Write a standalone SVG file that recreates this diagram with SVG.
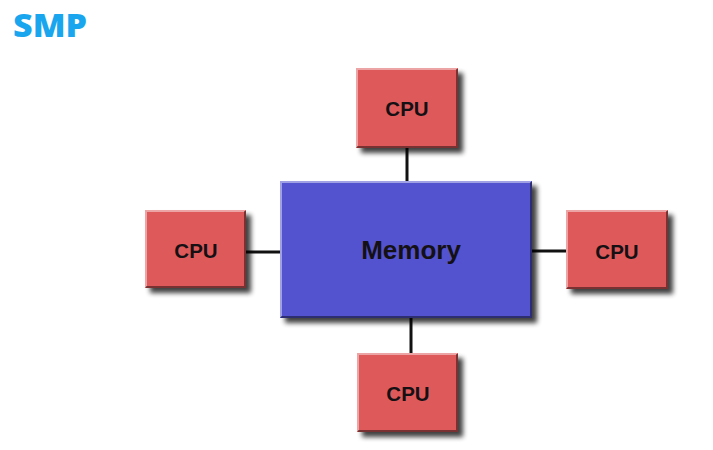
<svg xmlns="http://www.w3.org/2000/svg" width="713" height="450" viewBox="0 0 713 450">
<style>
.cpu{fill:#de5a5a;}
.mem{fill:#5252d0;}
.hl{fill:none;stroke:#ffffff;stroke-opacity:0.45;stroke-width:2;}
.dk{fill:none;stroke:#000000;stroke-opacity:0.45;stroke-width:2;}
.lbl{font-family:"Liberation Sans",Arial,sans-serif;font-weight:bold;fill:#141014;text-anchor:middle;}
.conn line{stroke:#111111;stroke-width:3;}
</style>
<defs>
<filter id="sh" x="-10%" y="-10%" width="130%" height="130%">
<feGaussianBlur in="SourceAlpha" stdDeviation="2.5"/>
<feOffset dx="5" dy="5" result="b"/>
<feComponentTransfer><feFuncA type="linear" slope="0.75"/></feComponentTransfer>
<feMerge><feMergeNode/><feMergeNode in="SourceGraphic"/></feMerge>
</filter>
</defs>
<rect width="713" height="450" fill="#ffffff"/>
<text x="13" y="37" font-family="'Open Sans','Liberation Sans',sans-serif" font-weight="800" font-size="31" fill="#1aa6ee" textLength="74" lengthAdjust="spacingAndGlyphs">SMP</text>
<g id="connectors" class="conn">
<line x1="407" y1="148" x2="407" y2="182"/>
<line x1="246" y1="252" x2="281" y2="252"/>
<line x1="531" y1="251" x2="566" y2="251"/>
<line x1="411" y1="318" x2="411" y2="353"/>
</g>
<g id="memory">
<rect class="mem" x="280" y="181" width="252" height="137" filter="url(#sh)"/>
<polyline class="hl" points="281,317 281,182 531,182"/>
<polyline class="dk" points="281,317 531,317 531,182"/>
<text class="lbl" x="411" y="259" font-size="26">Memory</text>
</g>
<g id="cpu-top">
<rect class="cpu" x="356" y="68" width="102" height="80" filter="url(#sh)"/>
<polyline class="hl" points="357,147 357,69 457,69"/>
<polyline class="dk" points="357,147 457,147 457,69"/>
<text class="lbl" x="407" y="116" font-size="20.5">CPU</text>
</g>
<g id="cpu-left">
<rect class="cpu" x="145" y="210" width="101" height="78" filter="url(#sh)"/>
<polyline class="hl" points="146,287 146,211 245,211"/>
<polyline class="dk" points="146,287 245,287 245,211"/>
<text class="lbl" x="196" y="258" font-size="20.5">CPU</text>
</g>
<g id="cpu-right">
<rect class="cpu" x="566" y="210" width="102" height="79" filter="url(#sh)"/>
<polyline class="hl" points="567,288 567,211 667,211"/>
<polyline class="dk" points="567,288 667,288 667,211"/>
<text class="lbl" x="617" y="259" font-size="20.5">CPU</text>
</g>
<g id="cpu-bottom">
<rect class="cpu" x="357" y="353" width="101" height="79" filter="url(#sh)"/>
<polyline class="hl" points="358,431 358,354 457,354"/>
<polyline class="dk" points="358,431 457,431 457,354"/>
<text class="lbl" x="408" y="401" font-size="20.5">CPU</text>
</g>
</svg>
